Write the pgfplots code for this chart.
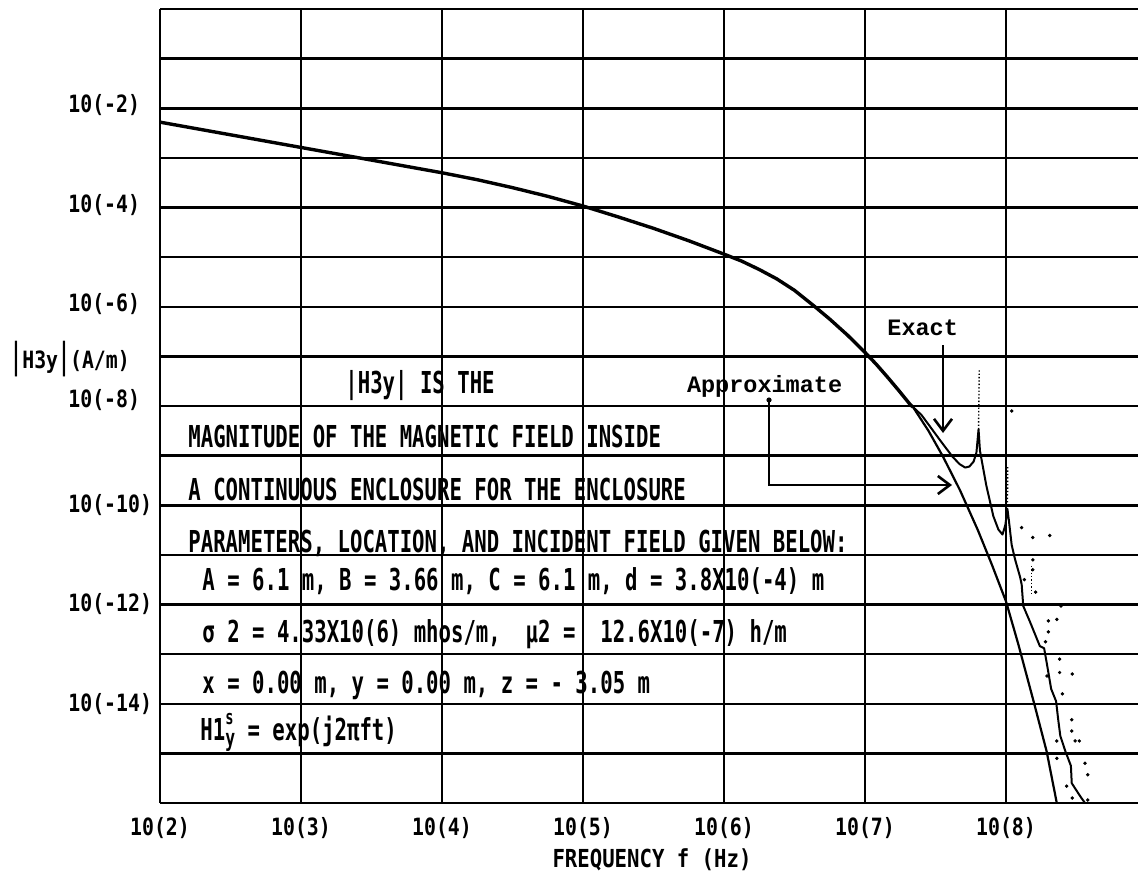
\documentclass[border=0pt]{standalone}
\usepackage{fontspec}
\usepackage{graphicx}
\usepackage{pgfplots}
\pgfplotsset{compat=1.18}
\usetikzlibrary{arrows.meta}
\setmainfont{DejaVu Sans}
\newfontfamily\rowfont{DejaVu Sans Mono}[FakeStretch=0.684]
\newfontfamily\tickfont{DejaVu Sans Mono}[FakeStretch=0.833]
\newfontfamily\typefont{Liberation Mono}
\begin{document}
\begin{tikzpicture}
\begin{axis}[
  at={(80pt,38.5pt)}, anchor=south west,
  scale only axis, width=489pt, height=397pt,
  xmin=2, xmax=8.936, ymin=-16, ymax=0,
  xtick={2,3,4,5,6,7,8}, ytick={-16,-15,...,0},
  xticklabels={}, yticklabels={},
  major tick length=0pt,
  grid=major,
  major x grid style={black, line width=1.0pt},
  major y grid style={black, line width=1.25pt},
  axis line style={draw=none},
]
% common part of the curve
\addplot[black, line width=1.7pt, line join=round] coordinates {
(2.00,-2.28) (2.50,-2.535) (3.00,-2.79) (3.50,-3.045) (4.00,-3.30)
(4.25,-3.44) (4.50,-3.60) (4.75,-3.775) (5.00,-3.97) (5.25,-4.19)
(5.50,-4.42) (5.75,-4.67) (6.00,-4.94) (6.125,-5.08) (6.25,-5.25)
(6.375,-5.44) (6.50,-5.67) (6.645,-6.00) (6.75,-6.25) (6.875,-6.57)
(7.00,-6.92) (7.08,-7.16) (7.16,-7.42) (7.24,-7.69) (7.32,-7.97) (7.34,-8.02)
};
% approximate
\addplot[black, line width=1.1pt, line join=round] coordinates {
(7.34,-8.02) (7.45,-8.50) (7.553,-9.02) (7.674,-9.70) (7.80,-10.50)
(7.90,-11.20) (8.00,-11.94) (8.087,-12.80) (8.20,-14.00) (8.288,-14.96)
(8.36,-16.00)
};
% exact
\addplot[black, line width=1.0pt, line join=round] coordinates {
(7.34,-8.02) (7.40,-8.18) (7.46,-8.41) (7.54,-8.72) (7.62,-9.02)
(7.67,-9.17) (7.71,-9.24) (7.74,-9.22) (7.77,-9.12) (7.79,-8.94)
(7.805,-8.47) (7.815,-8.90) (7.86,-9.60) (7.91,-10.22) (7.946,-10.49)
(7.975,-10.59) (7.995,-10.40) (8.01,-10.08) (8.02,-10.30) (8.04,-10.80)
(8.064,-11.09) (8.10,-11.45) (8.111,-11.60) (8.122,-12.03) (8.17,-12.35)
(8.24,-12.84) (8.27,-12.88) (8.29,-13.20) (8.32,-13.70) (8.355,-13.95)
(8.37,-14.32) (8.385,-14.65) (8.42,-14.95) (8.46,-15.25) (8.466,-15.60)
(8.50,-15.75) (8.53,-15.88) (8.56,-16.00)
};
% dotted resonance spikes of the exact curve
\addplot[black, line width=0.7pt, densely dotted] coordinates {(7.805,-8.47) (7.81,-7.28)};
\addplot[black, line width=0.7pt, densely dotted] coordinates {(8.01,-10.08) (8.012,-9.20)};
\addplot[black, line width=0.7pt, densely dotted] coordinates {(8.18,-11.22) (8.18,-11.82)};
% scattered noise points
\addplot[only marks, mark=*, mark size=0.65pt, black] coordinates {
(8.04,-8.10) (8.11,-10.45) (8.19,-10.65) (8.31,-10.61) (8.19,-11.10)
(8.19,-11.30) (8.30,-12.33) (8.36,-12.30) (8.30,-12.55) (8.28,-12.75)
(8.39,-12.03) (8.38,-13.10) (8.38,-13.37) (8.47,-13.40) (8.29,-13.44)
(8.40,-13.80) (8.466,-14.32) (8.466,-14.55) (8.49,-14.75) (8.52,-14.75)
(8.36,-14.75) (8.36,-15.10) (8.56,-15.20) (8.58,-15.43) (8.43,-15.66)
(8.47,-15.90) (8.58,-15.94) (8.21,-11.75) (8.13,-11.50)
};
\end{axis}
% y tick labels
\begin{scope}[every node/.style={inner sep=0pt, anchor=base west, font=\tickfont\bfseries\fontsize{11.9}{12}\selectfont}]
\node at (34pt,383.5pt) {10(-2)};
\node at (34pt,334pt) {10(-4)};
\node at (34pt,284.5pt) {10(-6)};
\node at (34pt,236.5pt) {10(-8)};
\node at (34pt,184pt) {10(-10)};
\node at (34pt,134.5pt) {10(-12)};
\node at (34pt,84.5pt) {10(-14)};
\end{scope}
% x tick labels
\begin{scope}[every node/.style={inner sep=0pt, anchor=base, font=\tickfont\bfseries\fontsize{11.9}{12}\selectfont}]
\node at (80pt,22.5pt) {10(2)};
\node at (150.5pt,22.5pt) {10(3)};
\node at (221pt,22.5pt) {10(4)};
\node at (291.5pt,22.5pt) {10(5)};
\node at (362pt,22.5pt) {10(6)};
\node at (432.5pt,22.5pt) {10(7)};
\node at (503pt,22.5pt) {10(8)};
\end{scope}
% axis titles
\node[inner sep=0pt, anchor=base, font=\tickfont\bfseries\fontsize{12.4}{13}\selectfont] at (326pt,6.5pt) {FREQUENCY f (Hz)};
\node[inner sep=0pt, anchor=west, font=\tickfont\bfseries\fontsize{11.9}{12}\selectfont] at (5pt,260.5pt) {\scalebox{1}[1.5]{|}H3y\scalebox{1}[1.5]{|}(A/m)};
% text block
\begin{scope}[every node/.style={inner sep=0pt, anchor=base west, font=\rowfont\bfseries\fontsize{15.1}{16}\selectfont}]
\node at (172.5pt,243.5pt) {|H3y| IS THE};
\node at (94pt,216.5pt) {MAGNITUDE OF THE MAGNETIC FIELD INSIDE};
\node at (94pt,190pt) {A CONTINUOUS ENCLOSURE FOR THE ENCLOSURE};
\node at (94pt,164pt) {PARAMETERS, LOCATION, AND INCIDENT FIELD GIVEN BELOW:};
\node at (101pt,145pt) {A = 6.1 m, B = 3.66 m, C = 6.1 m, d = 3.8X10(-4) m};
\node at (101pt,119pt) {σ 2 = 4.33X10(6) mhos/m,~ μ2 =~ 12.6X10(-7) h/m};
\node at (101pt,93.5pt) {x = 0.00 m, y = 0.00 m, z = - 3.05 m};
\node at (100pt,70pt) {H1\rlap{\raisebox{8pt}{\fontsize{10}{10}\selectfont\bfseries s}}\raisebox{-3pt}{\fontsize{12}{12}\selectfont y} = exp(j2πft)};
\end{scope}
% annotations
\node[inner sep=0pt, anchor=base west, font=\typefont\bfseries\fontsize{11.75}{12}\selectfont] at (443.5pt,272.5pt) {Exact};
\node[inner sep=0pt, anchor=base west, font=\typefont\bfseries\fontsize{11.75}{12}\selectfont] at (343.3pt,244pt) {Approximate};
\draw[line width=1.1pt, -{Straight Barb[length=6pt, width=9pt, line width=1.3pt]}] (471.5pt,267.5pt) -- (471.5pt,223.5pt);
\fill (384.5pt,240pt) circle (1.3pt);
\draw[line width=1.1pt, -{Straight Barb[length=6pt, width=9pt, line width=1.3pt]}] (384.5pt,240pt) -- (384.5pt,197.5pt) -- (476pt,197.5pt);
\pgfresetboundingbox
\path (0pt,0pt) rectangle (569pt,440pt);
\end{tikzpicture}
\end{document}
